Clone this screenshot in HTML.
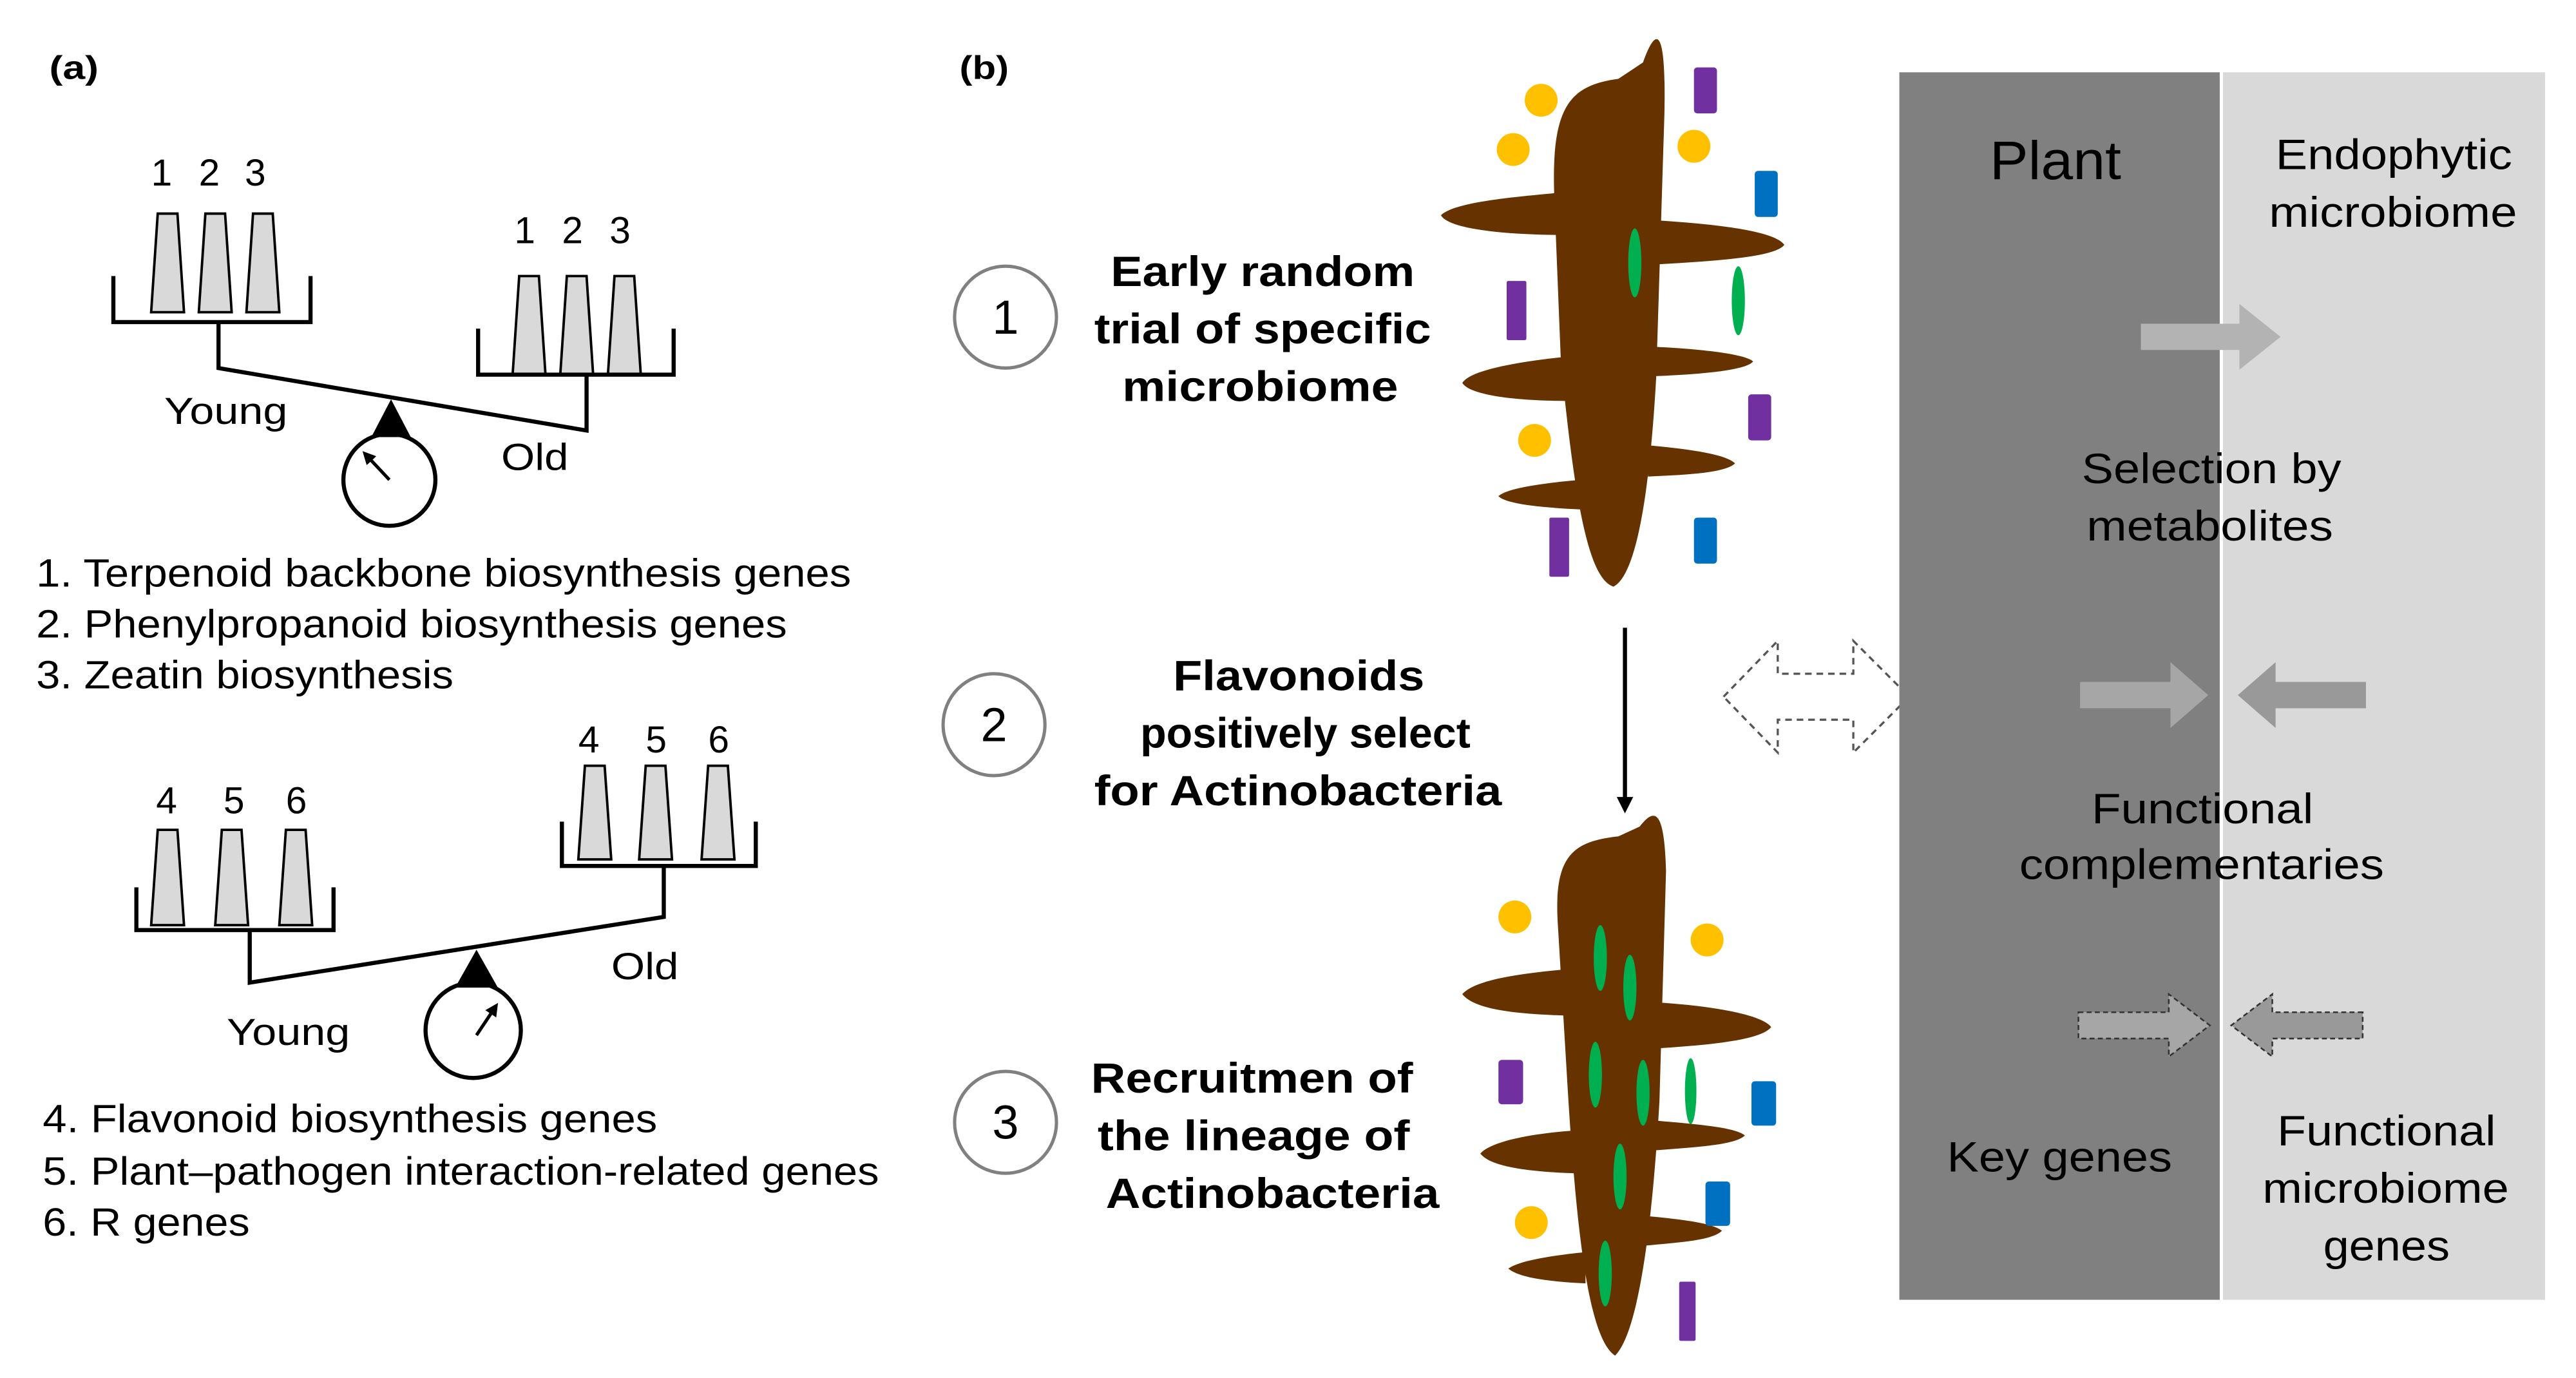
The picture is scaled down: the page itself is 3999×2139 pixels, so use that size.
<!DOCTYPE html>
<html><head><meta charset="utf-8"><style>
html,body{margin:0;padding:0;background:#fff;}
svg{display:block;}
text{font-family:"Liberation Sans",Arial,sans-serif;}
</style></head><body>
<svg width="3999" height="2139" viewBox="0 0 1560 834.4" preserveAspectRatio="none" xmlns="http://www.w3.org/2000/svg">
<defs>
<marker id="ah" markerWidth="8" markerHeight="8" refX="6" refY="4" orient="auto" markerUnits="userSpaceOnUse"><path d="M0,0 L8,4 L0,8 Z" fill="#000"/></marker>
<marker id="ah2" markerWidth="10" markerHeight="10" refX="5" refY="5" orient="auto" markerUnits="userSpaceOnUse"><path d="M0,0 L10,5 L0,10 Z" fill="#000"/></marker>
</defs>
<g transform="scale(0.995)">
<!-- (a) -->
<text x="30" y="48" font-size="20" font-weight="bold" textLength="30" lengthAdjust="spacingAndGlyphs">(a)</text>
<g font-size="23">
<text x="92" y="113">1</text><text x="121" y="113">2</text><text x="149" y="113">3</text>
<text x="313" y="148">1</text><text x="342" y="148">2</text><text x="371" y="148">3</text>
</g>
<g fill="#d9d9d9" stroke="#000" stroke-width="1.5">
<polygon points="96,130 108,130 112,190 92,190"/>
<polygon points="125,130 137,130 141,190 121,190"/>
<polygon points="154,130 166,130 170,190 150,190"/>
<polygon points="316,168 328,168 332,228 312,228"/>
<polygon points="345,168 357,168 361,228 341,228"/>
<polygon points="374,168 386,168 390,228 370,228"/>
</g>
<g fill="none" stroke="#000" stroke-width="2.5">
<polyline points="69,168 69,196 189,196 189,168"/>
<polyline points="291,200 291,228 410,228 410,200"/>
<polyline points="133,196 133,224 357,262 357,228"/>
</g>
<text x="100" y="258" font-size="23" textLength="75" lengthAdjust="spacingAndGlyphs">Young</text>
<text x="305" y="286" font-size="23" textLength="41" lengthAdjust="spacingAndGlyphs">Old</text>
<polygon points="238,243 226,266 250,266" fill="#000"/>
<circle cx="237" cy="292" r="28" fill="none" stroke="#000" stroke-width="2.5"/>
<line x1="237" y1="292" x2="222" y2="276" stroke="#000" stroke-width="2" marker-end="url(#ah)"/>
<g font-size="24">
<text x="22" y="357" textLength="496" lengthAdjust="spacingAndGlyphs">1. Terpenoid backbone biosynthesis genes</text>
<text x="22" y="388" textLength="457" lengthAdjust="spacingAndGlyphs">2. Phenylpropanoid biosynthesis genes</text>
<text x="22" y="419" textLength="254" lengthAdjust="spacingAndGlyphs">3. Zeatin biosynthesis</text>
</g>
<g font-size="23">
<text x="95" y="495">4</text><text x="136" y="495">5</text><text x="174" y="495">6</text>
<text x="352" y="458">4</text><text x="393" y="458">5</text><text x="431" y="458">6</text>
</g>
<g fill="#d9d9d9" stroke="#000" stroke-width="1.5">
<polygon points="96,505 108,505 112,563 92,563"/>
<polygon points="135,505 147,505 151,563 131,563"/>
<polygon points="174,505 186,505 190,563 170,563"/>
<polygon points="356,466 368,466 372,523 352,523"/>
<polygon points="393,466 405,466 409,523 389,523"/>
<polygon points="431,466 443,466 447,523 427,523"/>
</g>
<g fill="none" stroke="#000" stroke-width="2.5">
<polyline points="83,540 83,566 203,566 203,540"/>
<polyline points="342,500 342,527 460,527 460,500"/>
<polyline points="152,566 152,598 404,558 404,527"/>
</g>
<text x="138" y="636" font-size="23" textLength="75" lengthAdjust="spacingAndGlyphs">Young</text>
<text x="372" y="596" font-size="23" textLength="41" lengthAdjust="spacingAndGlyphs">Old</text>
<polygon points="290,578 277,601 303,601" fill="#000"/>
<circle cx="288" cy="627" r="29" fill="none" stroke="#000" stroke-width="2.5"/>
<line x1="290" y1="630" x2="302" y2="612" stroke="#000" stroke-width="2" marker-end="url(#ah)"/>
<g font-size="24">
<text x="26" y="689" textLength="374" lengthAdjust="spacingAndGlyphs">4. Flavonoid biosynthesis genes</text>
<text x="26" y="721" textLength="509" lengthAdjust="spacingAndGlyphs">5. Plant–pathogen interaction-related genes</text>
<text x="26" y="752" textLength="126" lengthAdjust="spacingAndGlyphs">6. R genes</text>
</g>
<!-- (b) -->
<text x="584" y="48" font-size="20" font-weight="bold" textLength="30" lengthAdjust="spacingAndGlyphs">(b)</text>
<g fill="none" stroke="#808080" stroke-width="2">
<circle cx="612" cy="193" r="31"/><circle cx="605" cy="441" r="31"/><circle cx="612" cy="683" r="31"/>
</g>
<g font-size="29" text-anchor="middle">
<text x="612" y="203">1</text><text x="605" y="451">2</text><text x="612" y="693">3</text>
</g>
<g font-size="26" font-weight="bold">
<text x="676" y="174" textLength="185" lengthAdjust="spacingAndGlyphs">Early random</text>
<text x="666" y="209" textLength="205" lengthAdjust="spacingAndGlyphs">trial of specific</text>
<text x="683" y="244" textLength="168" lengthAdjust="spacingAndGlyphs">microbiome</text>
<text x="714" y="420" textLength="153" lengthAdjust="spacingAndGlyphs">Flavonoids</text>
<text x="694" y="455" textLength="201" lengthAdjust="spacingAndGlyphs">positively select</text>
<text x="666" y="490" textLength="248" lengthAdjust="spacingAndGlyphs">for Actinobacteria</text>
<text x="664" y="665" textLength="196" lengthAdjust="spacingAndGlyphs">Recruitmen of</text>
<text x="668" y="700" textLength="190" lengthAdjust="spacingAndGlyphs">the lineage of</text>
<text x="673" y="735" textLength="203" lengthAdjust="spacingAndGlyphs">Actinobacteria</text>
</g>
<line x1="989" y1="382" x2="989" y2="490" stroke="#000" stroke-width="2.5" marker-end="url(#ah2)"/>
<polygon points="1049,424 1082,390 1082,410 1128,410 1128,390 1162,424 1128,458 1128,438 1082,438 1082,458" fill="#fff" stroke="#555" stroke-width="1.3" stroke-dasharray="4,3"/>
<!-- top root -->
<g fill="#663300">
<path d="M946,120 C944,65 955,52 985,48 L1000,38 C1010,10 1014,25 1013,70 L1008,230 C1004,300 996,350 982,357 C966,352 958,300 950,220 Z"/>
<path d="M952,117 C920,120 885,123 877,131 C882,140 920,143 952,143 Z"/>
<path d="M1006,134 C1040,136 1080,140 1086,149 C1080,157 1040,159 1006,161 Z"/>
<path d="M954,217 C925,220 895,225 890,233 C895,241 925,244 954,244 Z"/>
<path d="M1006,211 C1030,212 1062,215 1067,220 C1062,226 1030,228 1006,229 Z"/>
<path d="M1003,271 C1025,273 1050,276 1056,282 C1050,288 1025,289 1003,290 Z"/>
<path d="M962,292 C940,294 917,297 912,302 C917,307 940,309 962,310 Z"/>
</g>
<g fill="#ffc000"><circle cx="938" cy="61" r="10"/><circle cx="921" cy="91" r="10"/><circle cx="1031" cy="89" r="10"/><circle cx="934" cy="268" r="10"/></g>
<g fill="#7030a0"><rect x="1031" y="41" width="14" height="28" rx="2"/><rect x="917" y="171" width="12" height="36" rx="1"/><rect x="1064" y="240" width="14" height="28" rx="2"/><rect x="943" y="315" width="12" height="36" rx="1"/></g>
<g fill="#0070c0"><rect x="1068" y="104" width="14" height="28" rx="2"/><rect x="1031" y="315" width="14" height="28" rx="2"/></g>
<g fill="#00b050"><ellipse cx="995" cy="160" rx="4" ry="21"/><ellipse cx="1058" cy="183" rx="4" ry="21"/></g>
<!-- bottom root -->
<g fill="#663300">
<path d="M948,560 C946,520 958,512 985,509 L998,503 C1008,490 1013,495 1014,530 L1010,670 C1006,740 998,810 983,825 C968,815 960,760 954,660 Z"/>
<path d="M952,590 C920,593 897,597 890,605 C897,614 920,617 952,618 Z"/>
<path d="M1008,610 C1040,612 1072,617 1078,625 C1072,633 1040,636 1008,638 Z"/>
<path d="M958,688 C930,690 907,695 901,702 C907,710 930,713 958,714 Z"/>
<path d="M1008,682 C1032,684 1056,686 1062,691 C1056,697 1032,698 1008,700 Z"/>
<path d="M1002,740 C1022,742 1042,744 1048,749 C1042,755 1022,756 1002,758 Z"/>
<path d="M965,762 C945,764 925,767 918,772 C925,778 945,780 965,781 Z"/>
</g>
<g fill="#ffc000"><circle cx="922" cy="558" r="10"/><circle cx="1039" cy="572" r="10"/><circle cx="932" cy="744" r="10"/></g>
<g fill="#7030a0"><rect x="912" y="645" width="15" height="27" rx="2"/><rect x="1022" y="780" width="10" height="36" rx="1"/></g>
<g fill="#0070c0"><rect x="1066" y="658" width="15" height="27" rx="2"/><rect x="1038" y="719" width="15" height="27" rx="2"/></g>
<g fill="#00b050">
<ellipse cx="974" cy="583" rx="4" ry="20"/><ellipse cx="992" cy="601" rx="4" ry="20"/>
<ellipse cx="971" cy="654" rx="4" ry="20"/><ellipse cx="1000" cy="665" rx="4" ry="20"/>
<ellipse cx="986" cy="716" rx="4" ry="20"/><ellipse cx="977" cy="775" rx="4" ry="20"/>
<ellipse cx="1029" cy="664" rx="3.5" ry="20"/>
</g>
<!-- panel -->
<rect x="1156" y="44" width="195" height="747" fill="#808080"/>
<rect x="1353" y="44" width="196" height="747" fill="#d9d9d9"/>
<text x="1211" y="109" font-size="33" textLength="80" lengthAdjust="spacingAndGlyphs">Plant</text>
<g font-size="26">
<text x="1385" y="103" textLength="144" lengthAdjust="spacingAndGlyphs">Endophytic</text>
<text x="1381" y="138" textLength="151" lengthAdjust="spacingAndGlyphs">microbiome</text>
<text x="1267" y="294" textLength="158" lengthAdjust="spacingAndGlyphs">Selection by</text>
<text x="1270" y="329" textLength="150" lengthAdjust="spacingAndGlyphs">metabolites</text>
<text x="1273" y="501" textLength="135" lengthAdjust="spacingAndGlyphs">Functional</text>
<text x="1229" y="535" textLength="222" lengthAdjust="spacingAndGlyphs">complementaries</text>
<text x="1185" y="713" textLength="137" lengthAdjust="spacingAndGlyphs">Key genes</text>
<text x="1386" y="697" textLength="133" lengthAdjust="spacingAndGlyphs">Functional</text>
<text x="1377" y="732" textLength="150" lengthAdjust="spacingAndGlyphs">microbiome</text>
<text x="1414" y="767" textLength="77" lengthAdjust="spacingAndGlyphs">genes</text>
</g>
<polygon points="1303,197 1363,197 1363,185 1388,205 1363,225 1363,213 1303,213" fill="#b3b3b3"/>
<polygon points="1266,415 1321,415 1321,403 1344,423 1321,443 1321,431 1266,431" fill="#a6a6a6"/>
<polygon points="1440,415 1385,415 1385,403 1362,423 1385,443 1385,431 1440,431" fill="#999"/>
<polygon points="1265,616 1320,616 1320,605 1345,624 1320,643 1320,632 1265,632 Z" fill="#a6a6a6" stroke="#333" stroke-width="1" stroke-dasharray="3,2"/>
<polygon points="1438,616 1383,616 1383,605 1358,624 1383,643 1383,632 1438,632 Z" fill="#999" stroke="#333" stroke-width="1" stroke-dasharray="3,2"/>
</g>
</svg>
</body></html>
